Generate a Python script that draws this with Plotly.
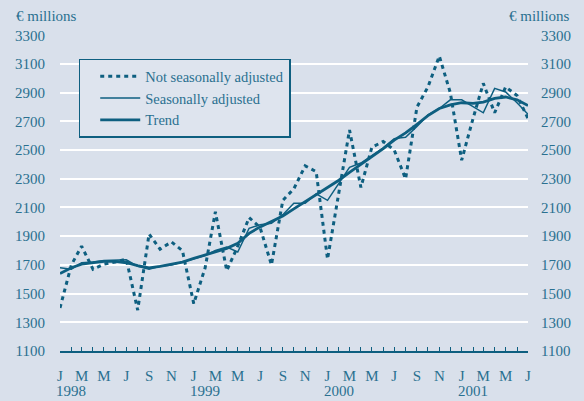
import plotly.graph_objects as go
import pandas as pd

months = pd.date_range("1998-01-01", "2001-07-01", freq="MS")

not_sa = [
    1400, 1700, 1830, 1670, 1705, 1720, 1740, 1385, 1915, 1810, 1860, 1800,
    1430, 1680, 2070, 1660, 1830, 2030, 1960, 1700, 2150, 2230, 2390, 2350,
    1740, 2200, 2640, 2240, 2520, 2560, 2500, 2300, 2800, 2940, 3155, 2900,
    2430, 2720, 2965, 2760, 2940, 2880, 2720,
]
seas_adj = [
    1680, 1670, 1715, 1720, 1730, 1730, 1735, 1690, 1670, 1690, 1700, 1720,
    1740, 1765, 1800, 1825, 1790, 1955, 1980, 1990, 2050, 2130, 2130, 2195,
    2150, 2270, 2380, 2410, 2460, 2515, 2580, 2590, 2665, 2745, 2790, 2850,
    2850, 2800, 2760, 2930, 2905, 2830, 2750,
]
trend = [
    1640, 1680, 1705, 1715, 1725, 1725, 1715, 1695, 1680, 1690, 1705, 1720,
    1745, 1770, 1790, 1815, 1850, 1920, 1965, 2000, 2040, 2090, 2140, 2190,
    2235, 2290, 2345, 2400, 2450, 2510, 2570, 2620, 2680, 2740, 2790, 2815,
    2830, 2825, 2835, 2860, 2870, 2850, 2810,
]

tick_dates = pd.date_range("1998-01-01", "2001-07-01", freq="2MS")
tick_letters = ["J", "M", "M", "J", "S", "N"] * 3 + ["J", "M", "M", "J"]
years = ["1998", "1999", "2000", "2001"]
y_ticks = list(range(1100, 3301, 200))

BG = "#d9e0eb"
LINE = "#0e5f80"
TXT = "#2a7090"
FONT = "Liberation Serif"

fig = go.Figure()
fig.add_trace(go.Scatter(x=months, y=not_sa, name="Not seasonally adjusted",
                         mode="lines", line=dict(color=LINE, width=3, dash="4px,4px")))
fig.add_trace(go.Scatter(x=months, y=seas_adj, name="Seasonally adjusted",
                         mode="lines", line=dict(color=LINE, width=1.5)))
fig.add_trace(go.Scatter(x=months, y=trend, name="Trend", yaxis="y2",
                         mode="lines", line=dict(color=LINE, width=2.8)))

for yr in years:
    fig.add_annotation(x=pd.Timestamp(f"{yr}-01-01"), xref="x", y=-0.158, yref="paper",
                       text=yr, showarrow=False, xanchor="left", yanchor="bottom",
                       xshift=-6, font=dict(family=FONT, size=15, color=TXT))
fig.add_annotation(x=-0.0983, xref="paper", y=1.06, yref="paper", text="€ millions",
                   showarrow=False, xanchor="left", yanchor="middle",
                   font=dict(family=FONT, size=15, color=TXT))
fig.add_annotation(x=1.0, xref="paper", y=1.06, yref="paper", text="€ millions",
                   showarrow=False, xanchor="right", yanchor="middle",
                   xshift=44, font=dict(family=FONT, size=15, color=TXT))

fig.update_layout(
    width=584, height=401,
    margin=dict(l=60, r=56, t=35, b=50, autoexpand=False),
    paper_bgcolor=BG, plot_bgcolor=BG,
    font=dict(family=FONT, size=15, color=TXT),
    showlegend=True,
    legend=dict(x=0.04, y=0.80, xanchor="left", yanchor="middle",
                bgcolor="#dee4ee", bordercolor=LINE, borderwidth=1.5,
                font=dict(family=FONT, size=14.5, color=TXT),
                indentation=15, tracegroupgap=0, itemwidth=40),
    xaxis=dict(range=[months[0], months[-1]], tickvals=tick_dates, ticktext=tick_letters,
               showgrid=False, zeroline=False, showline=True, linecolor=LINE, linewidth=1.5,
               ticks="inside", ticklen=4, tickcolor=LINE, tickwidth=1, automargin=False,
               minor=dict(dtick="M1", ticks="inside", ticklen=4, tickcolor=LINE, tickwidth=1),
               ticklabelstandoff=10),
    yaxis=dict(range=[1100, 3302], tickvals=y_ticks, showgrid=True, gridcolor="white",
               gridwidth=2, zeroline=False, showline=False, ticks="", ticklabelstandoff=14,
               automargin=False),
    yaxis2=dict(range=[1100, 3302], tickvals=y_ticks, overlaying="y", side="right",
                showgrid=False, zeroline=False, showline=False, ticks="", ticklabelstandoff=12,
                automargin=False),
)

fig.write_html("out.html", config={"displayModeBar": False},
               post_script="document.body.style.margin='0';document.body.style.background='%s';" % BG)
